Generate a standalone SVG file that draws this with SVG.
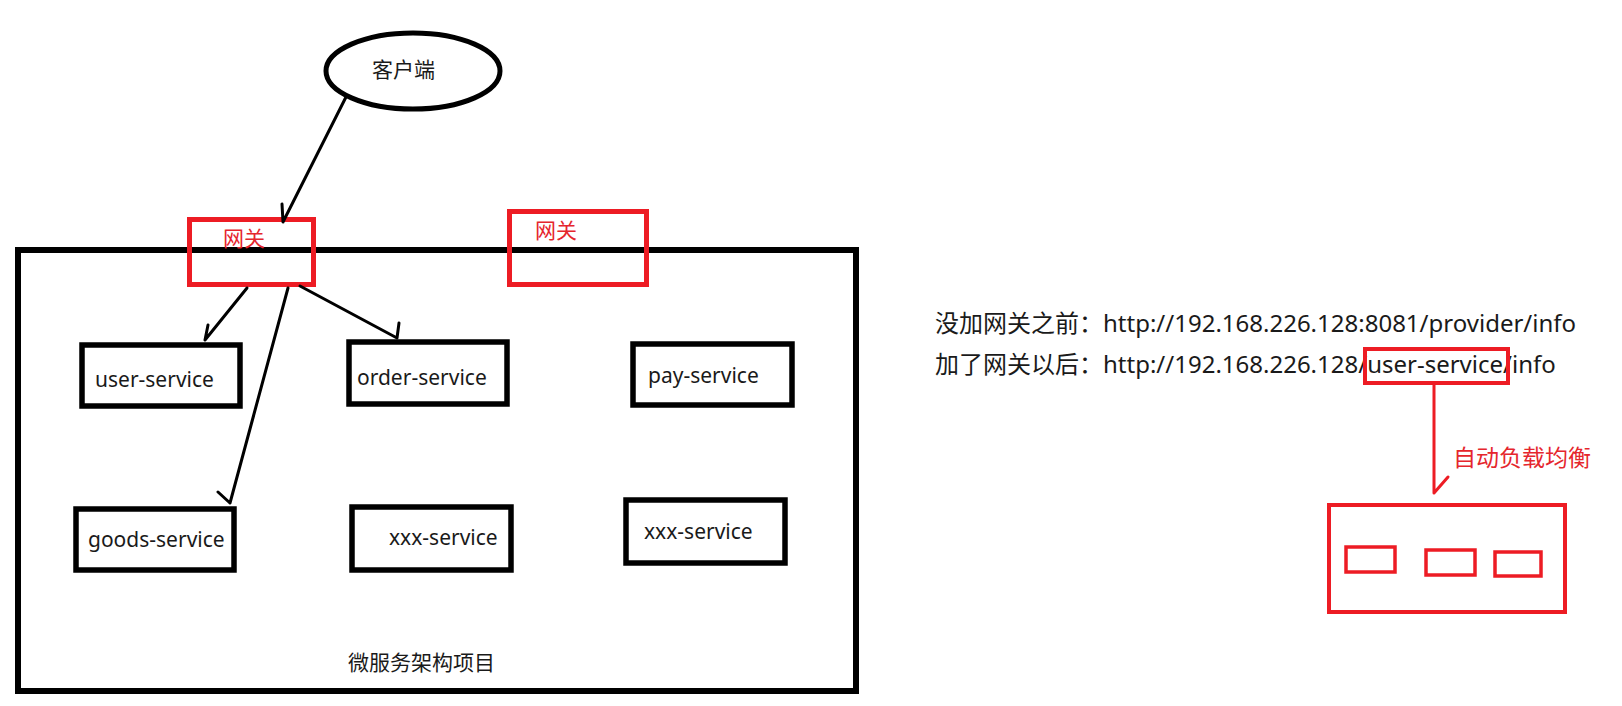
<svg xmlns="http://www.w3.org/2000/svg" width="1622" height="706" viewBox="0 0 1622 706">
<style>
  text { font-family: "Noto Sans", "Noto Sans CJK SC", sans-serif; fill: #1a1a1a; }
  .svc { font-size: 21px; }
  .red { fill: #E5262D; }
  .box { fill: none; stroke: #000; stroke-width: 5.5; }
  .gw { fill: none; stroke: #ED1C24; stroke-width: 5; }
  .rbox { fill: none; stroke: #ED1C24; stroke-width: 4; }
  .sbox { fill: none; stroke: #ED1C24; stroke-width: 3.5; }
  .conn { fill: none; stroke: #000; stroke-width: 3; stroke-linecap: round; stroke-linejoin: round; }
  .rconn { fill: none; stroke: #ED1C24; stroke-width: 3; stroke-linecap: round; stroke-linejoin: round; }
</style>
<rect width="1622" height="706" fill="#fff"/>

<g id="project">
  <rect x="18" y="250" width="838" height="441" fill="none" stroke="#000" stroke-width="6"/>
  <text x="348" y="670" style="font-size:21px">微服务架构项目</text>
</g>

<g id="client">
  <ellipse cx="413" cy="71" rx="87" ry="38" fill="none" stroke="#000" stroke-width="5"/>
  <text x="372" y="77" style="font-size:21px">客户端</text>
</g>

<g id="gateway1">
  <rect class="gw" x="189.5" y="219.5" width="124" height="65"/>
  <text class="red" x="223" y="246" style="font-size:21px">网关</text>
</g>

<g id="gateway2">
  <rect class="gw" x="509.5" y="211.5" width="137" height="73"/>
  <text class="red" x="535" y="238" style="font-size:21px">网关</text>
</g>

<g id="user-service">
  <rect class="box" x="82" y="345" width="158" height="61"/>
  <text class="svc" x="95" y="387">user-service</text>
</g>

<g id="order-service">
  <rect class="box" x="349" y="342" width="158" height="62"/>
  <text class="svc" x="357" y="385">order-service</text>
</g>

<g id="pay-service">
  <rect class="box" x="633" y="344" width="159" height="61"/>
  <text class="svc" x="648" y="383">pay-service</text>
</g>

<g id="goods-service">
  <rect class="box" x="76" y="509" width="158" height="61"/>
  <text class="svc" x="88" y="547">goods-service</text>
</g>

<g id="xxx-service-1">
  <rect class="box" x="352" y="507" width="159" height="63"/>
  <text class="svc" x="389" y="545">xxx-service</text>
</g>

<g id="xxx-service-2">
  <rect class="box" x="626" y="500" width="159" height="63"/>
  <text class="svc" x="644" y="539">xxx-service</text>
</g>

<g id="urls">
  <text x="935" y="332" style="font-size:24px">没加网关之前：http://192.168.226.128:8081/provider/info</text>
  <text x="935" y="373" style="font-size:24px">加了网关以后：http://192.168.226.128/user-service/info</text>
  <rect class="rbox" x="1365" y="349" width="143" height="34"/>
</g>

<g id="load-balance">
  <text class="red" x="1453" y="466" style="font-size:23px">自动负载均衡</text>
  <rect class="rbox" x="1329" y="505" width="236" height="107"/>
  <rect class="sbox" x="1346" y="547" width="49" height="25"/>
  <rect class="sbox" x="1426" y="550" width="49" height="25"/>
  <rect class="sbox" x="1495" y="552" width="46" height="24"/>
</g>

<g id="connectors">
  <path class="conn" d="M346,97 L283,222 M283,222 L282,204"/>
  <path class="conn" d="M247,288 L205,340 M205,340 L208,325"/>
  <path class="conn" d="M288,288 L230,503 M230,503 L218,492"/>
  <path class="conn" d="M300,286 L397,338 M397,338 L399,323"/>
  <path class="rconn" d="M1434,385 L1434,493 M1434,493 L1448,477"/>
</g>
</svg>
